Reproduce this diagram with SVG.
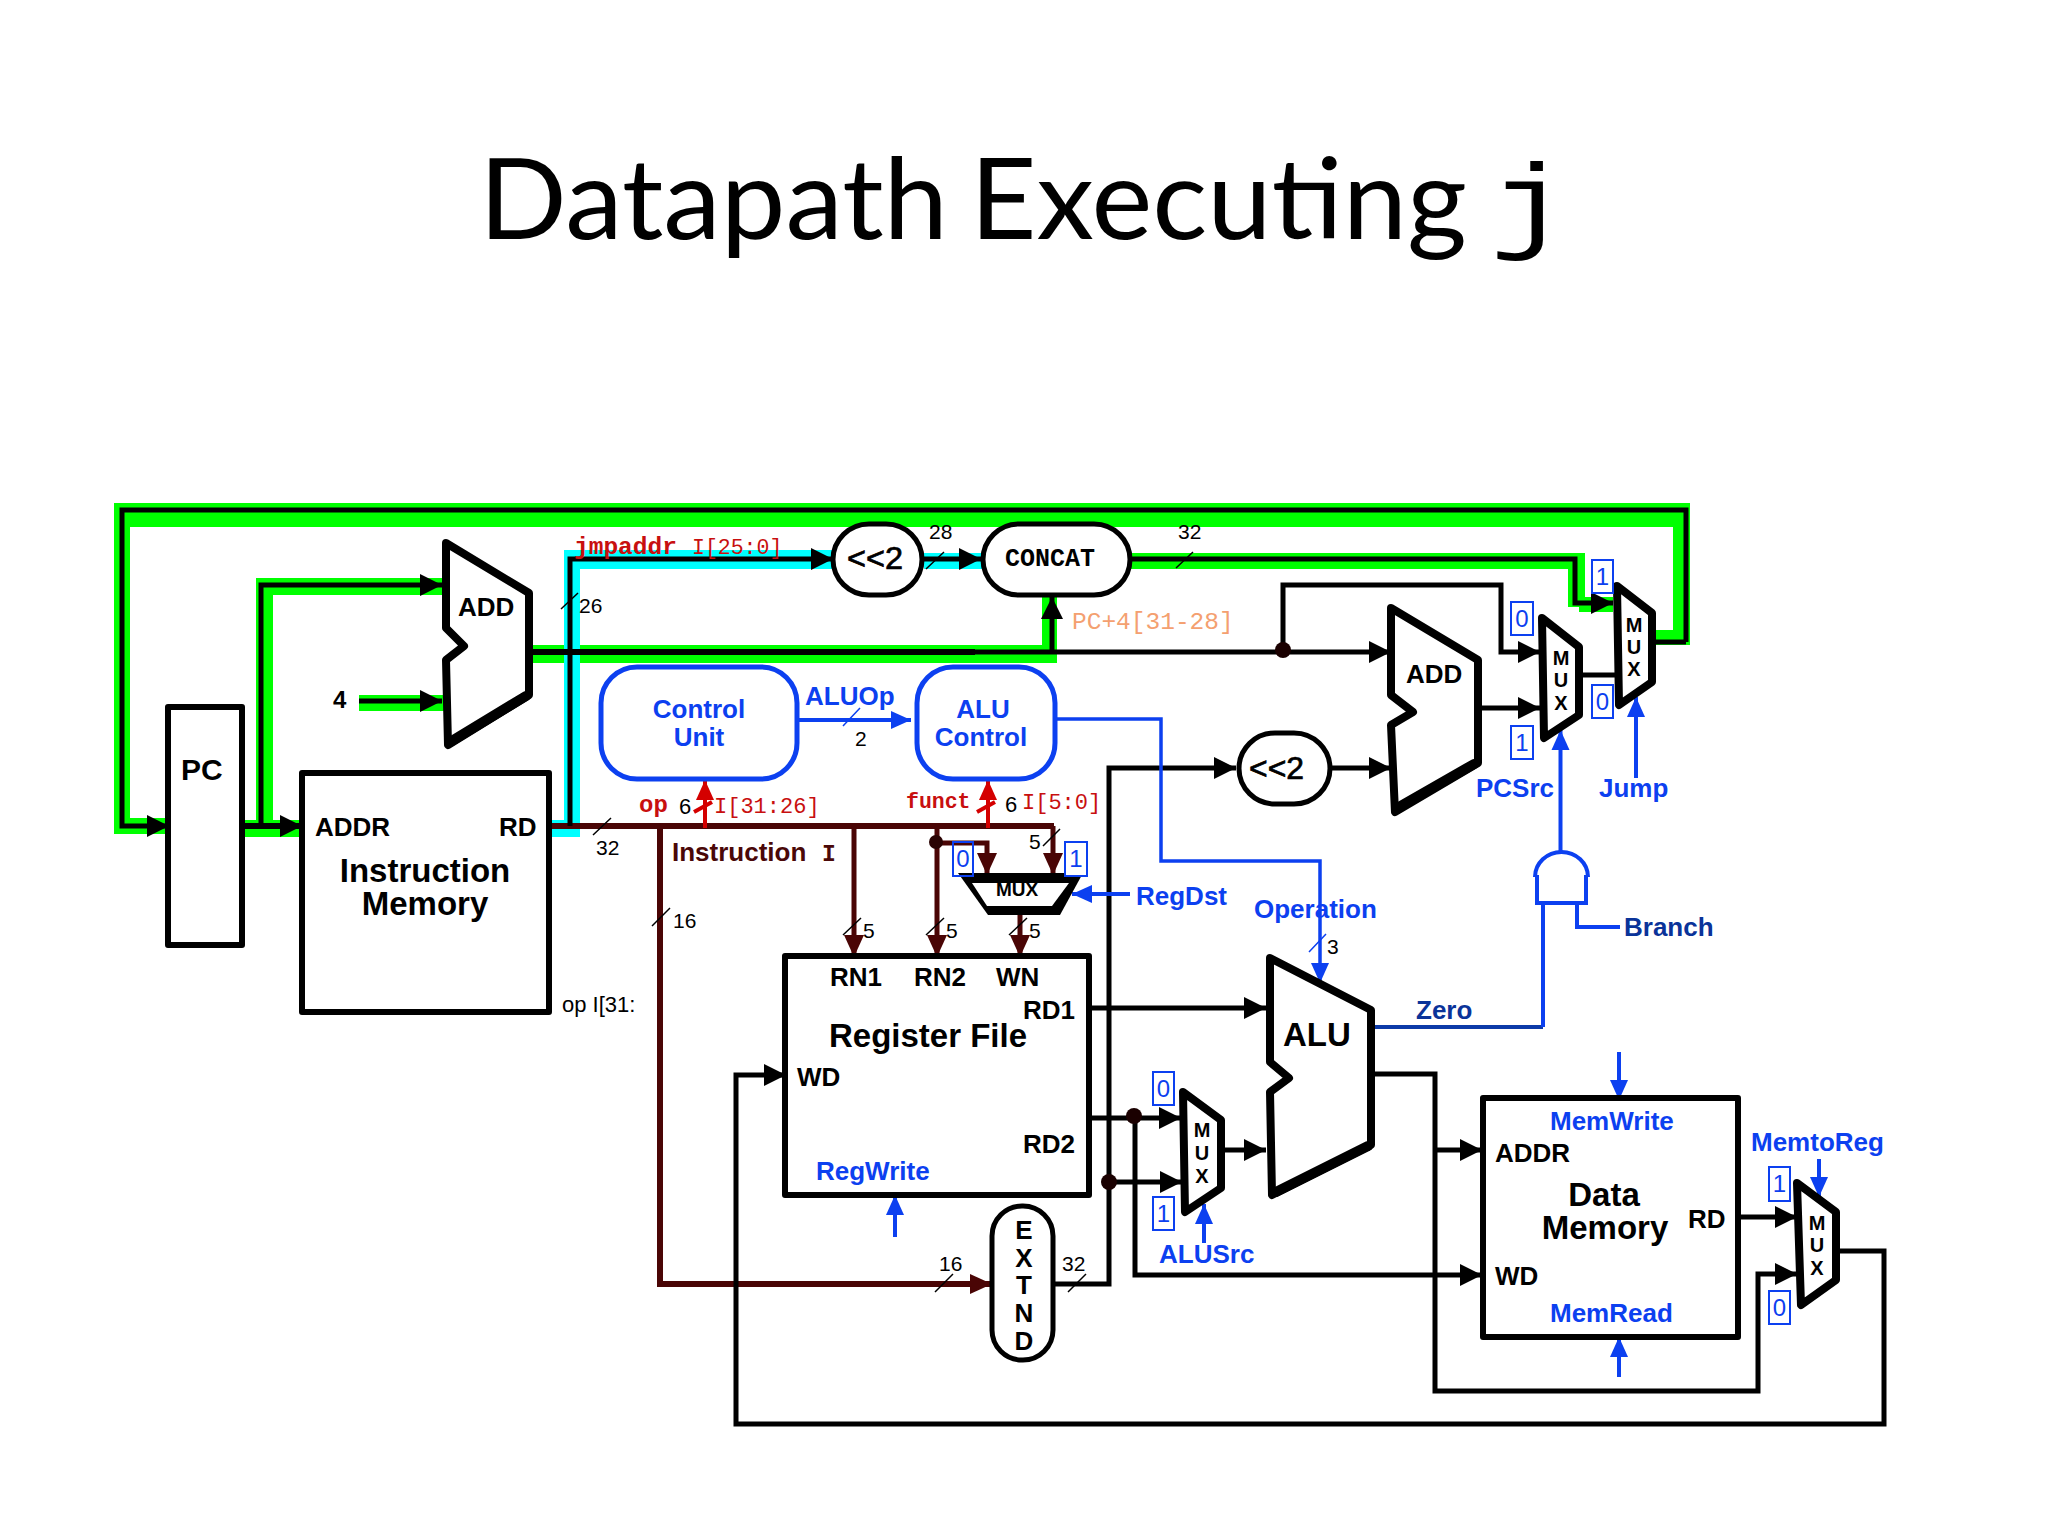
<svg xmlns="http://www.w3.org/2000/svg" width="2048" height="1536" viewBox="0 0 2048 1536">
<style>
text{font-family:"Liberation Sans",Arial,sans-serif;fill:#000}
.l{font-size:26px;font-weight:700}
.t{font-size:33px;font-weight:700}
.m{font-size:20px;font-weight:700;text-anchor:middle}
.x{font-size:26px;font-weight:700;text-anchor:middle}
.b{fill:#0c40f0}
.nv{fill:#0a3399}
.n{font-size:21px}
.mono{font-family:"Liberation Mono",monospace}
.rd{fill:#c80f0f}
.mr{fill:#4a0808}
.bt{font-size:24px;fill:#0c40f0;text-anchor:middle}
.bx{fill:#fff;stroke:#0c40f0;stroke-width:2}
.box{fill:#fff;stroke:#000;stroke-width:6;stroke-linejoin:round}
.ctl{fill:#fff;stroke:#0c40f0;stroke-width:5}
.unit{fill:#fff;stroke:#000;stroke-width:8;stroke-linejoin:round}
.thick{fill:none;stroke:#000;stroke-width:12;stroke-linecap:round}
.w{fill:none;stroke:#000;stroke-width:5}
.wm{fill:none;stroke:#4a0505;stroke-width:5}
.wb{fill:none;stroke:#0c40f0;stroke-width:4}
.wr{fill:none;stroke:#d40000;stroke-width:4}
.s{stroke:#000;stroke-width:1.5}
.g{fill:#00ff00}
.c{fill:#00ffff}
.sh{stroke:#000;stroke-width:.7}
.ttl{font-family:Lato,'Open Sans',sans-serif;font-size:112px}
</style>
<defs>
<marker id="ak" markerUnits="userSpaceOnUse" viewBox="0 0 22 22" refX="22" refY="11" markerWidth="22" markerHeight="22" orient="auto"><path d="M0 0L22 11L0 22z" fill="#000"/></marker>
<marker id="am" markerUnits="userSpaceOnUse" viewBox="0 0 22 22" refX="22" refY="11" markerWidth="22" markerHeight="22" orient="auto"><path d="M0 1L22 11L0 21z" fill="#4a0505"/></marker>
<marker id="ab" markerUnits="userSpaceOnUse" viewBox="0 0 20 20" refX="20" refY="10" markerWidth="20" markerHeight="20" orient="auto"><path d="M0 1L20 10L0 19z" fill="#0c40f0"/></marker>
<marker id="ar" markerUnits="userSpaceOnUse" viewBox="0 0 20 20" refX="20" refY="10" markerWidth="20" markerHeight="20" orient="auto"><path d="M0 1L20 10L0 19z" fill="#d40000"/></marker>
</defs>
<rect width="2048" height="1536" fill="#fff"/>
<g id="title">
<text class="ttl" x="479" y="239" textLength="469" lengthAdjust="spacingAndGlyphs">Datapath</text>
<text class="ttl" x="970" y="239" textLength="497" lengthAdjust="spacingAndGlyphs">Executing</text>
<text transform="translate(1490 239) scale(1.2 1)" font-size="108" style="font-family:'Liberation Mono',monospace">j</text>
</g>
<g id="highlight-green">
<rect class="g" x="114" y="503" width="1576" height="24"/>
<rect class="g" x="114" y="503" width="16" height="330"/>
<rect class="g" x="114" y="818" width="55" height="16"/>
<rect class="g" x="1673" y="503" width="17" height="142"/>
<rect class="g" x="1640" y="630" width="50" height="15"/>
<rect class="g" x="1130" y="553" width="443" height="16"/>
<rect class="g" x="1568" y="553" width="17" height="54"/>
<rect class="g" x="1579" y="597" width="34" height="15"/>
<rect class="g" x="242" y="820" width="60" height="17"/>
<rect class="g" x="256" y="578" width="17" height="259"/>
<rect class="g" x="256" y="578" width="188" height="17"/>
<rect class="g" x="359" y="695" width="85" height="16"/>
<rect class="g" x="465" y="645" width="592" height="18"/>
<rect class="g" x="1042" y="597" width="15" height="66"/>
</g>
<g id="highlight-cyan">
<rect class="c" x="551" y="820" width="29" height="17"/>
<rect class="c" x="564" y="550" width="16" height="287"/>
<rect class="c" x="564" y="550" width="270" height="19"/>
<rect class="c" x="924" y="553" width="58" height="16"/>
</g>
<g id="connectors">
<path class="w" d="M1686 642V510H122V826H169" marker-end="url(#ak)"/>
<path class="w" d="M236 826H302" marker-end="url(#ak)" style="stroke-width:6"/>
<circle cx="236" cy="826" r="4"/>
<path class="w" d="M261 826V585H442" marker-end="url(#ak)"/>
<path class="w" d="M359 701H442" marker-end="url(#ak)"/>
<path class="w" d="M465 652H975" style="stroke-width:6"/>
<path class="w" d="M1052 652V597" marker-end="url(#ak)"/>
<path class="w" d="M975 652H1391" marker-end="url(#ak)"/>
<path class="w" d="M1283 650V585H1501V652H1540" marker-end="url(#ak)"/>
<path class="wm" d="M549 826H1054" style="stroke-width:6"/>
<path class="w" d="M570 826V559H833" marker-end="url(#ak)"/>
<path class="w" d="M922 559H981" marker-end="url(#ak)"/>
<path class="w" d="M1130 559H1575V603H1613" marker-end="url(#ak)"/>
<path class="w" d="M1655 642H1686"/>
<path class="w" d="M1582 675H1617"/>
<path class="w" d="M1481 708H1540" marker-end="url(#ak)"/>
<path class="w" d="M1330 768H1391" marker-end="url(#ak)"/>
<path class="w" d="M1053 1284H1109V768H1236" marker-end="url(#ak)"/>
<path class="wm" d="M660 826V1284H992" marker-end="url(#am)" style="stroke-width:6"/>
<path class="wm" d="M854 826V957" marker-end="url(#am)"/>
<path class="wm" d="M937 826V957" marker-end="url(#am)"/>
<path class="wm" d="M936 843H987V875" marker-end="url(#am)"/>
<path class="wm" d="M1053 826V875" marker-end="url(#am)"/>
<path class="wm" d="M1020 913V957" marker-end="url(#am)"/>
<circle cx="936" cy="842" r="7" fill="#2a0303"/>
<path class="wr" d="M705 828V780" marker-end="url(#ar)"/>
<path class="wr" d="M988 828V780" marker-end="url(#ar)"/>
<path class="wb" d="M797 720H911" marker-end="url(#ab)"/>
<path class="wb" d="M1055 719H1161V861H1320V983" marker-end="url(#ab)" style="stroke-width:3.5"/>
<path class="wb" d="M1130 894H1072" marker-end="url(#ab)"/>
<path class="wb" d="M895 1237V1195" marker-end="url(#ab)"/>
<path class="wb" d="M1204 1243V1204" marker-end="url(#ab)"/>
<path class="wb" d="M1560.500 852V730" marker-end="url(#ab)"/>
<path class="wb" d="M1636 778V697" marker-end="url(#ab)"/>
<path class="wb" d="M1375 1027H1543" style="stroke:#0c3aa8"/>
<path class="wb" d="M1543 1027V903"/>
<path class="wb" d="M1577 903V927H1620"/>
<path class="wb" d="M1619 1052V1100" marker-end="url(#ab)"/>
<path class="wb" d="M1619 1377V1337" marker-end="url(#ab)"/>
<path class="wb" d="M1819 1159V1197" marker-end="url(#ab)"/>
<path class="w" d="M1086 1008H1266" marker-end="url(#ak)"/>
<path class="w" d="M1085 1118H1181" marker-end="url(#ak)"/>
<path class="w" d="M1135 1118V1275H1482" marker-end="url(#ak)"/>
<path class="w" d="M1109 1182H1182" marker-end="url(#ak)"/>
<path class="w" d="M1225 1150H1266" marker-end="url(#ak)"/>
<path class="w" d="M1375 1074H1435V1391H1758V1274H1797" marker-end="url(#ak)"/>
<path class="w" d="M1435 1150H1482" marker-end="url(#ak)"/>
<path class="w" d="M1733 1217H1797" marker-end="url(#ak)"/>
<path class="w" d="M1838 1251H1884V1424H736V1075H786" marker-end="url(#ak)"/>
<circle cx="1283" cy="650" r="8" fill="#1a0000"/>
<circle cx="1134" cy="1116" r="8" fill="#1a0000"/>
<circle cx="1109" cy="1182" r="8" fill="#1a0000"/>
<path class="s" d="M561 609L578 593M593 835L611 818M926 569L944 552M1176 568L1193 552M652 926L670 908M843 935L861 918M926 935L944 918M1009 935L1027 918M1043 846L1060 829M935 1292L953 1274M1068 1292L1086 1274"/>
<path class="s" d="M843 726L860 708M1309 952L1326 934" style="stroke:#0c40f0"/>
<path d="M694 812L712 802M977 812L995 802" style="stroke:#d40000;stroke-width:4"/>
</g>
<g id="pc"><rect class="box" x="168" y="707" width="74" height="238"/><text x="181" y="780" font-size="30" font-weight="700">PC</text></g>
<g id="instruction-memory"><rect class="box" x="302" y="773" width="247" height="239"/>
<text class="l" x="315" y="836">ADDR</text><text class="l" x="499" y="836">RD</text>
<text class="t" x="425" y="882" text-anchor="middle">Instruction</text><text class="t" x="425" y="915" text-anchor="middle">Memory</text></g>
<g id="add-pc"><polygon class="unit" points="446,543 529,593 529,695 448,745 446,660 464,646 446,628"/><path class="thick" d="M450 742L526 696" style="stroke-width:10"/><text class="l" x="458" y="616">ADD</text></g>
<g id="shift-upper"><rect x="833" y="524" width="89" height="71" rx="36" fill="#fff" stroke="#000" stroke-width="5"/><text class="sh" x="847" y="569" font-size="32" textLength="56" lengthAdjust="spacingAndGlyphs">&lt;&lt;2</text></g>
<g id="concat"><rect x="983" y="524" width="147" height="71" rx="36" fill="#fff" stroke="#000" stroke-width="5"/><text class="mono" x="1005" y="566" font-size="25" font-weight="700" textLength="90" lengthAdjust="spacingAndGlyphs">CONCAT</text></g>
<g id="control-unit"><rect class="ctl" x="601" y="667" width="196" height="112" rx="36"/><text class="x b" x="699" y="718">Control</text><text class="x b" x="699" y="746">Unit</text></g>
<g id="alu-control"><rect class="ctl" x="917" y="667" width="138" height="112" rx="36"/><text class="x b" x="983" y="718">ALU</text><text class="x b" x="981" y="746">Control</text></g>
<g id="add-branch"><polygon class="unit" points="1391,608 1478,660 1478,763 1395,812 1391,725 1413,712 1391,695"/><path class="thick" d="M1397 808L1474 764" style="stroke-width:10"/><text class="l" x="1406" y="683">ADD</text></g>
<g id="shift-lower"><rect x="1239" y="733" width="91" height="71" rx="36" fill="#fff" stroke="#000" stroke-width="5"/><text class="sh" x="1249" y="779" font-size="32" textLength="55" lengthAdjust="spacingAndGlyphs">&lt;&lt;2</text></g>
<g id="mux-pcsrc"><polygon class="unit" points="1542,618 1579,647 1579,715 1544,738"/><text class="m" x="1561" y="665">M</text><text class="m" x="1561" y="687">U</text><text class="m" x="1561" y="710">X</text></g>
<g id="mux-jump"><polygon class="unit" points="1617,586 1652,613 1652,682 1619,705"/><text class="m" x="1634" y="632">M</text><text class="m" x="1634" y="654">U</text><text class="m" x="1634" y="676">X</text></g>
<g id="and-gate"><path d="M1535 877A26.500 25 0 0 1 1588 877M1537 875V903H1586V875" fill="#fff" stroke="#0c40f0" stroke-width="4"/></g>
<g id="mux-regdst"><polygon points="958,873 1083,873 1060,915 988,915"/><polygon fill="#fff" points="972,883 1069,883 1052,906 987,906"/><text class="m" x="1017" y="896" style="font-size:19px">MUX</text></g>
<g id="register-file"><rect class="box" x="785" y="956" width="304" height="239"/>
<text class="l" x="830" y="986">RN1</text><text class="l" x="914" y="986">RN2</text><text class="l" x="996" y="986">WN</text><text class="l" x="1023" y="1019">RD1</text><text class="t" x="829" y="1047">Register File</text><text class="l" x="797" y="1086">WD</text><text class="l" x="1023" y="1153">RD2</text><text class="l b" x="816" y="1180">RegWrite</text></g>
<g id="extend"><rect x="992" y="1206" width="61" height="154" rx="30" fill="#fff" stroke="#000" stroke-width="5"/><text class="x" x="1024" y="1239">E</text><text class="x" x="1024" y="1267">X</text><text class="x" x="1024" y="1294">T</text><text class="x" x="1024" y="1322">N</text><text class="x" x="1024" y="1350">D</text></g>
<g id="mux-alusrc"><polygon class="unit" points="1183,1092 1221,1120 1221,1188 1185,1212"/><text class="m" x="1202" y="1137">M</text><text class="m" x="1202" y="1160">U</text><text class="m" x="1202" y="1183">X</text></g>
<g id="alu"><polygon class="unit" points="1270,958 1371,1010 1371,1145 1272,1195 1270,1092 1289,1078 1270,1062"/><path class="thick" d="M1276 1192L1368 1146" style="stroke-width:10"/><text x="1283" y="1046" font-size="33" font-weight="700">ALU</text></g>
<g id="data-memory"><rect class="box" x="1483" y="1098" width="255" height="239"/>
<text class="l b" x="1550" y="1130">MemWrite</text><text class="l" x="1495" y="1162">ADDR</text><text class="t" x="1604" y="1206" text-anchor="middle">Data</text><text class="t" x="1605" y="1239" text-anchor="middle">Memory</text><text class="l" x="1688" y="1228">RD</text><text class="l" x="1495" y="1285">WD</text><text class="l b" x="1550" y="1322">MemRead</text></g>
<g id="mux-memtoreg"><polygon class="unit" points="1797,1183 1836,1212 1836,1280 1801,1305"/><text class="m" x="1817" y="1230">M</text><text class="m" x="1817" y="1252">U</text><text class="m" x="1817" y="1275">X</text></g>
<g id="labels">
<text x="333" y="708" font-size="24" font-weight="700">4</text>
<text class="n" x="579" y="613">26</text><text class="n" x="596" y="855">32</text><text class="n" x="929" y="539">28</text><text class="n" x="1178" y="539">32</text>
<text class="n" x="673" y="928">16</text><text class="n" x="855" y="746">2</text><text class="n" x="863" y="938">5</text><text class="n" x="946" y="938">5</text><text class="n" x="1029" y="938">5</text><text class="n" x="1029" y="849">5</text>
<text class="n" x="939" y="1271">16</text><text class="n" x="1062" y="1271">32</text><text class="n" x="1327" y="954">3</text>
<text class="mono rd" x="574" y="554" font-size="24.500" font-weight="700">jmpaddr</text><text class="mono rd" x="692" y="554" font-size="21.500">I[25:0]</text>
<text class="mono" x="1072" y="629" font-size="24.500" style="fill:#f4a070">PC+4[31-28]</text>
<text class="l b" x="805" y="705">ALUOp</text>
<text class="mono rd" x="639" y="812" font-size="24" font-weight="700">op</text><text x="679" y="814" font-size="22">6</text><text class="mono rd" x="714" y="813" font-size="22">I[31:26]</text>
<text class="mono rd" x="906" y="808" font-size="21.500" font-weight="700">funct</text><text x="1005" y="812" font-size="22">6</text><text class="mono rd" x="1022" y="809" font-size="22">I[5:0]</text>
<text class="l mr" x="672" y="861">Instruction</text><text class="mono mr" x="822" y="861" font-size="23" font-weight="700">I</text>
<text x="562" y="1012" font-size="22">op I[31:</text>
<text class="l b" x="1136" y="905">RegDst</text><text class="l b" x="1254" y="918">Operation</text>
<text class="l b" x="1476" y="797">PCSrc</text><text class="l b" x="1599" y="797">Jump</text>
<text class="l nv" x="1624" y="936">Branch</text><text class="l nv" x="1416" y="1019">Zero</text>
<text class="l b" x="1159" y="1263">ALUSrc</text><text class="l b" x="1751" y="1151">MemtoReg</text>
<rect class="bx" x="1511" y="602" width="22" height="33"/><text class="bt" x="1522" y="627">0</text>
<rect class="bx" x="1511" y="726" width="22" height="33"/><text class="bt" x="1522" y="751">1</text>
<rect class="bx" x="1592" y="560" width="21" height="33"/><text class="bt" x="1602.500" y="585">1</text>
<rect class="bx" x="1592" y="685" width="21" height="33"/><text class="bt" x="1602.500" y="710">0</text>
<rect class="bx" x="953" y="842" width="20" height="34" style="fill:none"/><text class="bt" x="963" y="867">0</text>
<rect class="bx" x="1065" y="842" width="22" height="34"/><text class="bt" x="1076" y="867">1</text>
<rect class="bx" x="1153" y="1072" width="21" height="33"/><text class="bt" x="1163.500" y="1097">0</text>
<rect class="bx" x="1153" y="1197" width="21" height="33"/><text class="bt" x="1163.500" y="1222">1</text>
<rect class="bx" x="1769" y="1167" width="21" height="34"/><text class="bt" x="1779.500" y="1192">1</text>
<rect class="bx" x="1769" y="1291" width="21" height="33"/><text class="bt" x="1779.500" y="1316">0</text>
</g>
</svg>
